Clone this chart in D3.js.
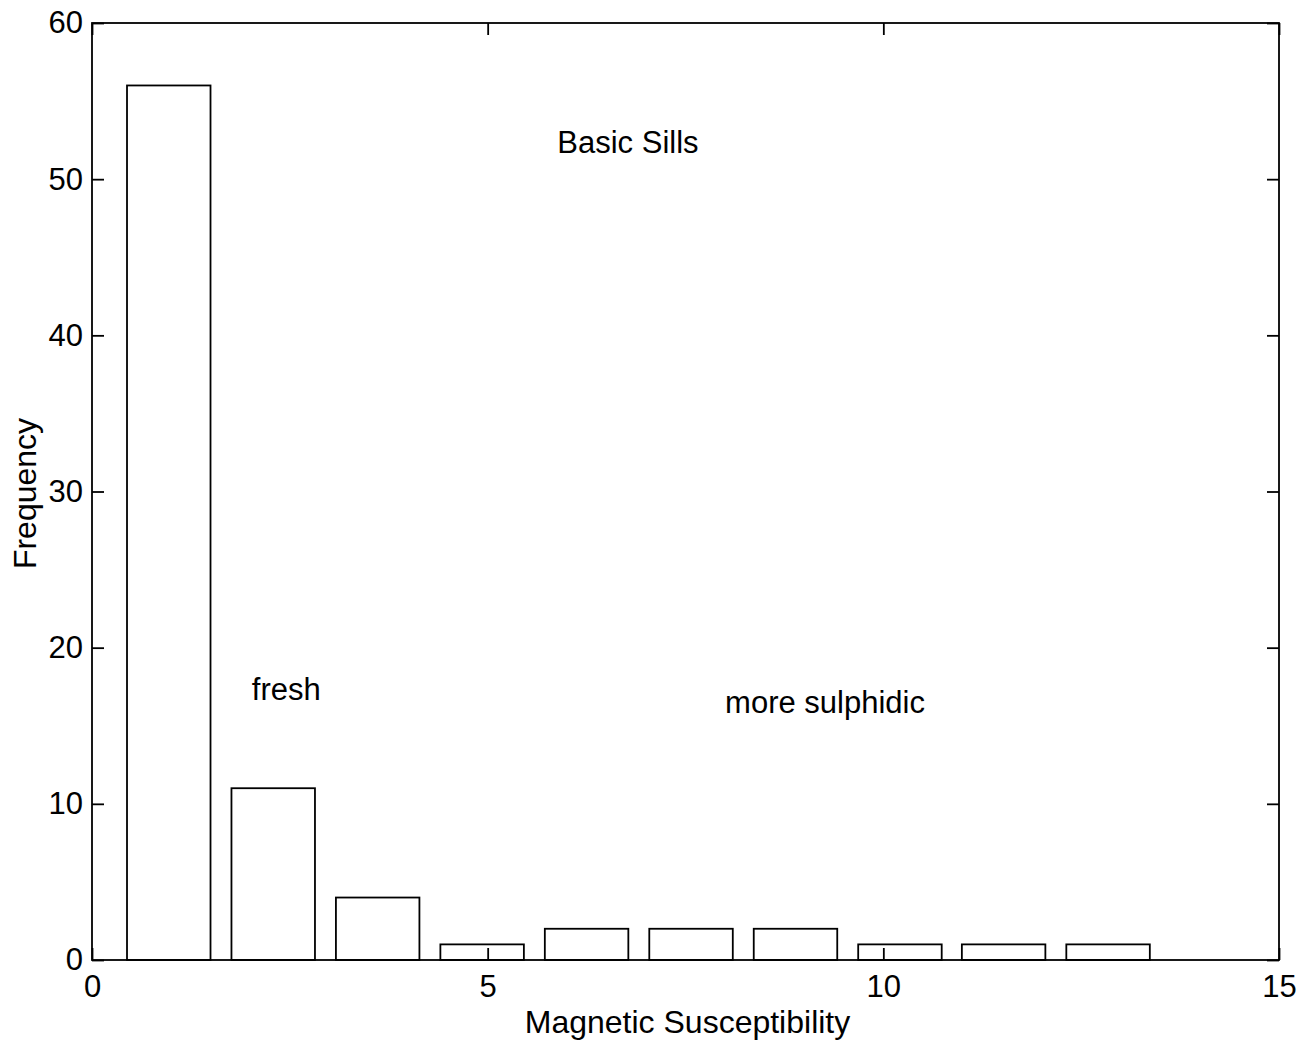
<!DOCTYPE html>
<html>
<head>
<meta charset="utf-8">
<script src="https://cdn.jsdelivr.net/npm/d3@7"></script>
<style>
  html, body { margin: 0; padding: 0; background: #fff; }
  svg { display: block; }
  text { font-family: "Liberation Sans", Arial, sans-serif; fill: #000; }
</style>
</head>
<body>
<svg id="chart" width="1314" height="1045"></svg>
<script>
// Histogram of magnetic susceptibility for the basic sills (10 bins)
const binCenters = [0.97, 2.29, 3.61, 4.93, 6.25, 7.57, 8.89, 10.21, 11.52, 12.84];
const frequencies = [56, 11, 4, 1, 2, 2, 2, 1, 1, 1];
const binWidth = 1.319;
const barFraction = 0.8;

const xTicks = [0, 5, 10, 15];
const yTicks = [0, 10, 20, 30, 40, 50, 60];

const xLabel = "Magnetic Susceptibility";
const yLabel = "Frequency";

// Annotation text, placed in data units (left edge, baseline)
const annotations = [
  { text: "Basic Sills", x: 5.88, y: 51.7 },
  { text: "fresh", x: 2.02, y: 16.65 },
  { text: "more sulphidic", x: 8.0, y: 15.8 }
];

const svg = d3.select("#chart");
const box = { left: 92, top: 23, right: 1279, bottom: 960 };
const fontSize = 31;
const titleSize = 32;
const tickLen = 12;
const lineW = 1.8;

const x = d3.scaleLinear().domain([0, 15]).range([box.left, box.right]);
const y = d3.scaleLinear().domain([0, 60]).range([box.bottom, box.top]);

// Bars
svg.append("g")
  .selectAll("rect")
  .data(binCenters.map((c, i) => ({ c, f: frequencies[i] })))
  .join("rect")
  .attr("x", d => x(d.c - binWidth * barFraction / 2))
  .attr("width", d => x(d.c + binWidth * barFraction / 2) - x(d.c - binWidth * barFraction / 2))
  .attr("y", d => y(d.f))
  .attr("height", d => y(0) - y(d.f))
  .attr("fill", "#fff")
  .attr("stroke", "#000")
  .attr("stroke-width", lineW);

// Axes with inward ticks on all four sides
function styleAxis(g) {
  g.select(".domain").remove();
  g.selectAll(".tick line").attr("stroke", "#000").attr("stroke-width", lineW);
  g.selectAll(".tick text")
    .style("font-family", '"Liberation Sans", Arial, sans-serif')
    .style("font-size", fontSize + "px")
    .attr("fill", "#000");
}

svg.append("g")
  .attr("transform", `translate(0,${box.bottom})`)
  .call(d3.axisBottom(x).tickValues(xTicks).tickFormat(d3.format("d"))
    .tickSizeInner(-tickLen).tickSizeOuter(0).tickPadding(15))
  .call(styleAxis);

svg.append("g")
  .attr("transform", `translate(0,${box.top})`)
  .call(d3.axisTop(x).tickValues(xTicks).tickFormat("")
    .tickSizeInner(-tickLen).tickSizeOuter(0))
  .call(styleAxis);

svg.append("g")
  .attr("transform", `translate(${box.left},0)`)
  .call(d3.axisLeft(y).tickValues(yTicks).tickFormat(d3.format("d"))
    .tickSizeInner(-tickLen).tickSizeOuter(0).tickPadding(9))
  .call(styleAxis);

svg.append("g")
  .attr("transform", `translate(${box.right},0)`)
  .call(d3.axisRight(y).tickValues(yTicks).tickFormat("")
    .tickSizeInner(-tickLen).tickSizeOuter(0))
  .call(styleAxis);

// Plot frame
svg.append("rect")
  .attr("x", box.left).attr("y", box.top)
  .attr("width", box.right - box.left).attr("height", box.bottom - box.top)
  .attr("fill", "none").attr("stroke", "#000").attr("stroke-width", lineW);

// Axis titles
svg.append("text")
  .attr("x", (box.left + box.right) / 2 + 2)
  .attr("y", 1033)
  .attr("text-anchor", "middle")
  .style("font-size", titleSize + "px")
  .text(xLabel);

svg.append("text")
  .attr("transform", `translate(36,${(box.top + box.bottom) / 2 + 2}) rotate(-90)`)
  .attr("text-anchor", "middle")
  .style("font-size", titleSize + "px")
  .text(yLabel);

// Annotations
svg.append("g")
  .selectAll("text")
  .data(annotations)
  .join("text")
  .attr("x", d => x(d.x))
  .attr("y", d => y(d.y))
  .style("font-size", fontSize + "px")
  .text(d => d.text);
</script>
</body>
</html>
